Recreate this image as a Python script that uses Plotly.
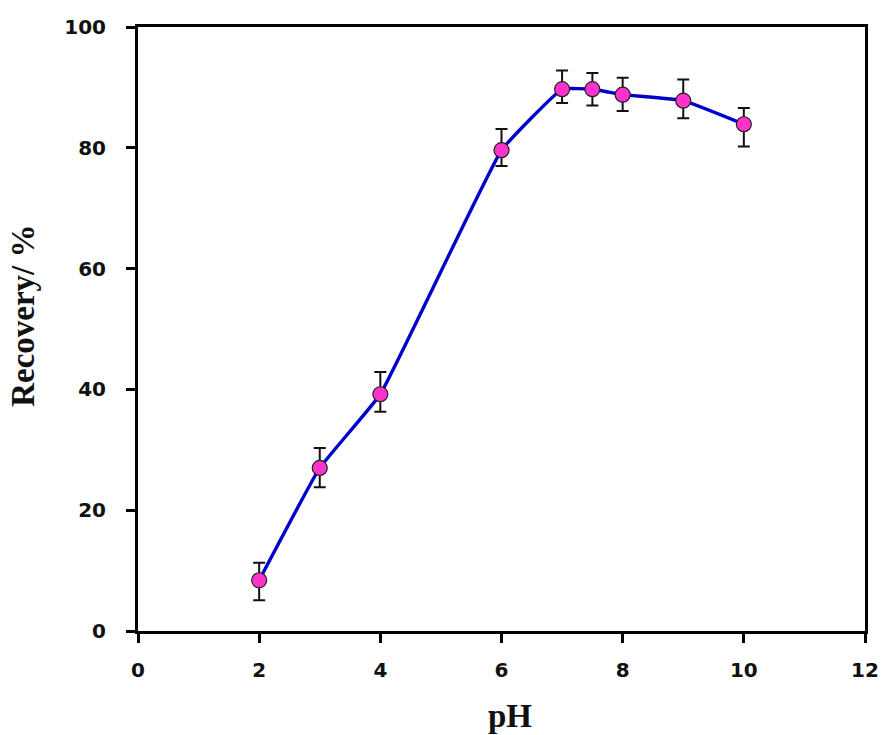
import plotly.graph_objects as go

ph = [2, 3, 4, 6, 7, 7.5, 8, 9, 10]
recovery = [8.4, 27.0, 39.2, 79.6, 89.7, 89.7, 88.8, 87.8, 83.9]
err_plus = [2.9, 3.3, 3.7, 3.5, 3.1, 2.7, 2.8, 3.5, 2.7]
err_minus = [3.3, 3.2, 2.9, 2.6, 2.3, 2.7, 2.7, 2.9, 3.7]

x_ticks = [0, 2, 4, 6, 8, 10, 12]
y_ticks = [0, 20, 40, 60, 80, 100]

fig = go.Figure()
fig.add_trace(go.Scatter(
    x=ph, y=recovery,
    mode="lines+markers",
    line=dict(color="#0000CC", width=3.4, shape="spline", smoothing=0.3),
    marker=dict(size=15, color="#FF33CC", line=dict(color="#222222", width=1.2)),
    error_y=dict(type="data", symmetric=False, array=err_plus, arrayminus=err_minus,
                 color="#111111", thickness=2, width=6),
    showlegend=False,
))

tick_font = dict(family="DejaVu Sans", size=20, color="#111111")
title_font = dict(family="Liberation Serif", size=33, color="#111111")

fig.update_xaxes(
    range=[0, 12], tickvals=x_ticks, ticktext=[f"<b>{v}</b>" for v in x_ticks],
    ticks="outside", ticklen=9, tickwidth=3, ticklabelstandoff=10,
    tickcolor="black", showline=True, linecolor="black", linewidth=3, mirror=True,
    showgrid=False, zeroline=False, tickfont=tick_font,
)
fig.update_yaxes(
    range=[0, 100], tickvals=y_ticks, ticktext=[f"<b>{v}</b>" for v in y_ticks],
    ticks="outside", ticklen=9, tickwidth=3, ticklabelstandoff=16,
    tickcolor="black", showline=True, linecolor="black", linewidth=3, mirror=True,
    showgrid=False, zeroline=False, tickfont=tick_font,
)
fig.add_annotation(text="<b>pH</b>", xref="paper", yref="paper", x=0.512, y=-0.141,
                   xanchor="center", yanchor="middle", showarrow=False, font=title_font)
fig.add_annotation(text="<b>Recovery/ %</b>", xref="paper", yref="paper", x=-0.158, y=0.522,
                   xanchor="center", yanchor="middle", textangle=-90, showarrow=False,
                   font=title_font)
fig.update_layout(
    width=884, height=735,
    margin=dict(l=138, r=19, t=27, b=104, autoexpand=False),
    plot_bgcolor="white", paper_bgcolor="white",
)
fig.write_html(
    "out.html",
    config={"displayModeBar": False},
    post_script="document.body.style.margin='0';document.body.style.overflow='hidden';",
)
